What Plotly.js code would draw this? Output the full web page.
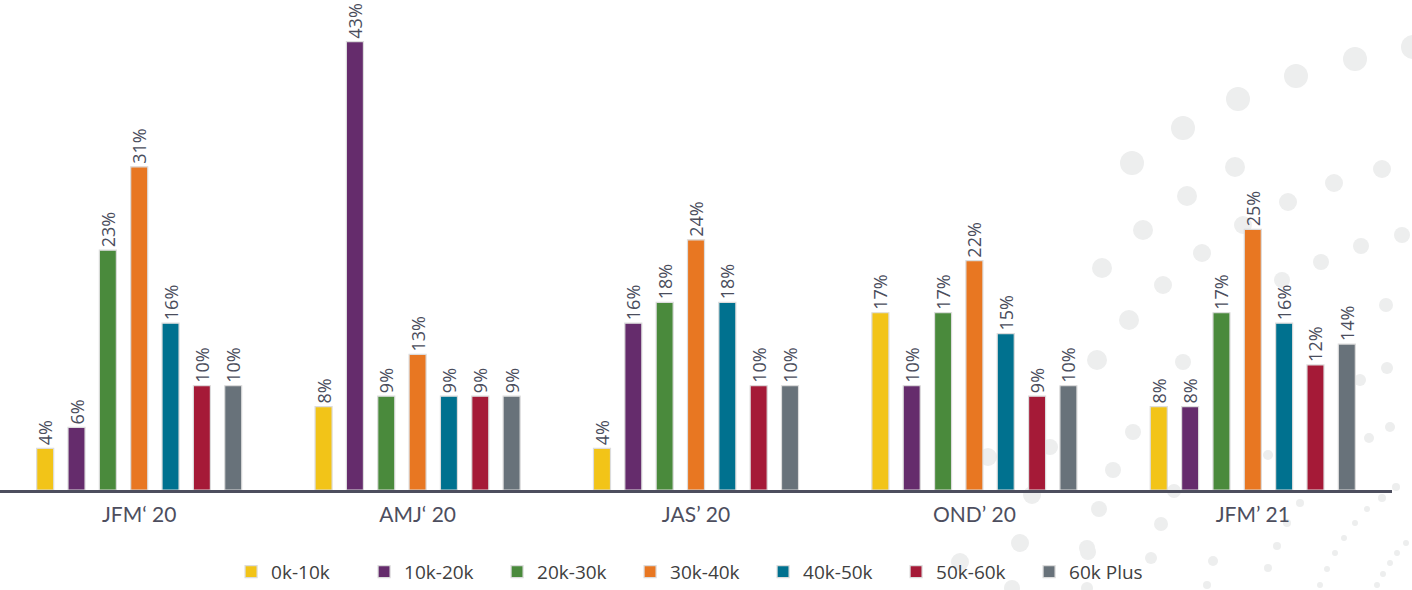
<!DOCTYPE html>
<html>
<head>
<meta charset="utf-8">
<script src="https://cdn.plot.ly/plotly-3.0.1.min.js"></script>
<style>html,body{margin:0;padding:0;background:#fff;}#chart{width:1412px;height:590px;}</style>
</head>
<body>
<div id="chart"></div>
<script>
// ---- data ----
const quarters = ["JFM\u2018 20", "AMJ\u2018 20", "JAS\u2019 20", "OND\u2019 20", "JFM\u2019 21"];
const seriesNames = ["0k-10k", "10k-20k", "20k-30k", "30k-40k", "40k-50k", "50k-60k", "60k Plus"];
const v0k10k   = [4, 8, 4, 17, 8];
const v10k20k  = [6, 43, 16, 10, 8];
const v20k30k  = [23, 9, 18, 17, 17];
const v30k40k  = [31, 13, 24, 22, 25];
const v40k50k  = [16, 9, 18, 15, 16];
const v50k60k  = [10, 9, 10, 9, 12];
const v60kPlus = [10, 9, 10, 10, 14];
const seriesValues = [v0k10k, v10k20k, v20k30k, v30k40k, v40k50k, v50k60k, v60kPlus];
const seriesColors = ["#F2C418", "#652C6C", "#4A8A3C", "#E87722", "#00718F", "#A51A37", "#68727A"];

// decorative background dots (pixel position x, y, radius) — not data
const decor = [
 [1413,47,12],[1355,59,12],[1296,76,12],[1238,99,12],[1183,128,12],[1132,163,12],
 [1235,167,10],[1187,196,10],[1143,230,10],[1102,268,10],
 [1382,169,9],[1334,183,9],[1288,202,9],[1243,225,9],[1202,253,9],[1163,285,9],
 [1402,235,8],[1361,246,8],[1321,262,8],[1282,280,8],
 [1386,305,7],[1129,320,10],[1097,360,10],[1183,362,8],[1387,368,6],[1360,380,6],
 [1133,432,8],[1390,427,5],[1369,438,5],[1113,470,8],[1268,455,5],[1174,491,7],
 [1396,487,4],[1099,509,8],[1300,503,4],[1382,498,4],[1367,509,3],[1161,524,7],
 [1287,523,4],[1355,523,3],[1344,538,3],[1277,546,4],[1087,548,8],[1213,561,5],
 [1335,553,3],[1151,558,6],[1406,543,3],[1397,553,3],[1390,563,3],[1268,568,4],
 [1327,569,3],[1383,574,3],[1377,585,3],[1320,585,3],[1207,585,4],
 [988,457,9],[1050,447,8],[1032,495,9],[1020,543,9],[1088,552,8],[960,562,9],
 [1012,588,8],[1087,588,6]
];

const W = 1412, H = 590;
const M = {l: 0, r: 20, t: 0, b: 100, autoexpand: false};
const pw = W - M.l - M.r, ph = H - M.t - M.b;

const shapes = decor.map(d => {
  const [px, py, r] = d;
  return {
    type: 'circle', xref: 'paper', yref: 'paper', layer: 'below',
    x0: (px - r - M.l) / pw, x1: (px + r - M.l) / pw,
    y0: (H - M.b - (py + r)) / ph, y1: (H - M.b - (py - r)) / ph,
    fillcolor: '#EDEEEE', line: {width: 0}
  };
});

const traces = seriesNames.map((name, i) => ({
  type: 'bar',
  name: name,
  x: quarters,
  y: seriesValues[i],
  text: seriesValues[i].map(v => v + '%'),
  textposition: 'outside',
  textangle: -90,
  constraintext: 'none',
  cliponaxis: false,
  textfont: {family: 'Open Sans, sans-serif', size: 18, color: '#4A4D5C'},
  marker: {color: seriesColors[i], line: {color: '#DCDCDC', width: 1.2}},
  hoverinfo: 'skip'
}));

const layout = {
  width: W, height: H,
  margin: M,
  paper_bgcolor: 'rgba(0,0,0,0)',
  plot_bgcolor: 'rgba(0,0,0,0)',
  barmode: 'group',
  bargap: 0.212,
  bargroupgap: 0.457,
  showlegend: true,
  legend: {
    orientation: 'h', x: 0.166, xanchor: 'left', y: -0.167, yanchor: 'middle',
    font: {family: 'Open Sans, sans-serif', size: 19, color: '#404040'},
    entrywidth: 88, entrywidthmode: 'pixels',
    itemwidth: 30, traceorder: 'normal'
  },
  xaxis: {
    type: 'category',
    showline: true, linecolor: '#4D4E5E', linewidth: 2.5,
    showgrid: false, zeroline: false, ticks: '',
    tickfont: {family: 'Lato, sans-serif', size: 21, color: '#4D4E5E'},
    ticklabelstandoff: 4
  },
  yaxis: {
    range: [0, 47], visible: false, showgrid: false, zeroline: false, fixedrange: true
  },
  shapes: shapes
};

Plotly.newPlot('chart', traces, layout, {displayModeBar: false, staticPlot: true});
</script>
</body>
</html>
